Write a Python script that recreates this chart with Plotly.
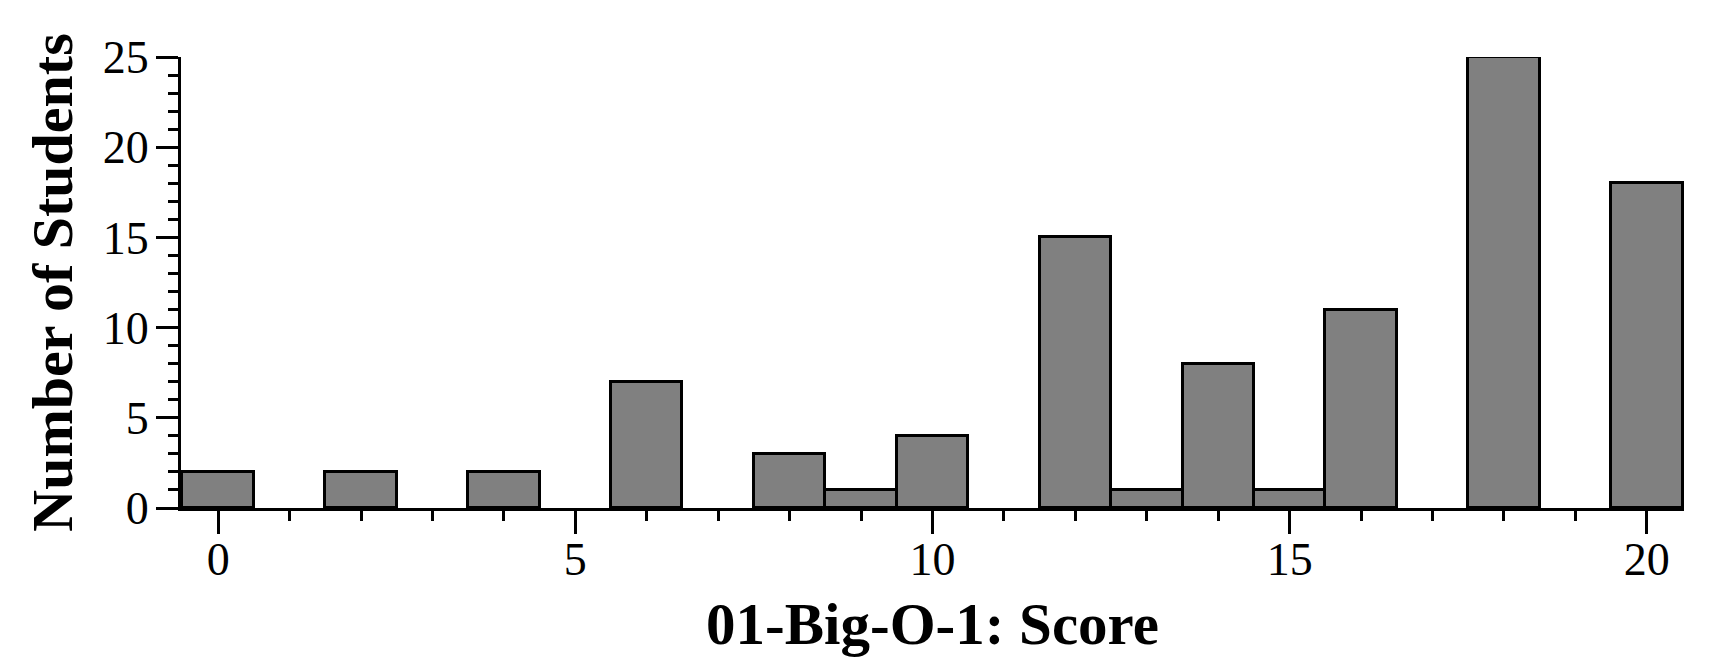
import plotly.graph_objects as go

scores = [0, 2, 4, 6, 8, 9, 10, 12, 13, 14, 15, 16, 18, 20]
counts = [2, 2, 2, 7, 3, 1, 4, 15, 1, 8, 1, 11, 25, 18]
x_ticks = [0, 5, 10, 15, 20]
y_ticks = [0, 5, 10, 15, 20, 25]

FONT = "Liberation Serif, Times New Roman, serif"

fig = go.Figure(go.Bar(
    x=scores, y=counts, width=1,
    marker=dict(color="#808080", line=dict(color="black", width=3)),
))

# page body has an 8px default margin: size the figure to fit the window
fig.update_layout(
    width=1704, height=654,
    margin=dict(l=173, r=28, t=49, b=154),
    plot_bgcolor="white", paper_bgcolor="white",
    showlegend=False,
    font=dict(family=FONT, color="black", size=46),
    bargap=0,
)
fig.update_xaxes(
    range=[-0.52, 20.52], tickvals=x_ticks, ticktext=[str(v) for v in x_ticks],
    showline=True, linecolor="black", linewidth=3,
    ticks="outside", ticklen=23, tickwidth=3, tickcolor="black",
    minor=dict(dtick=1, tick0=0, ticks="outside", ticklen=10, tickwidth=3, tickcolor="black"),
    showgrid=False, zeroline=False, ticklabelstandoff=-14,
    title=dict(text="<b>01-Big-O-1: Score</b>", font=dict(size=59, family=FONT), standoff=19),
    tickfont=dict(size=46, family=FONT),
)
fig.update_yaxes(
    range=[0, 25], tickvals=y_ticks, ticktext=[str(v) for v in y_ticks],
    showline=True, linecolor="black", linewidth=3,
    ticks="outside", ticklen=22, tickwidth=3, tickcolor="black",
    minor=dict(dtick=1, tick0=0, ticks="outside", ticklen=10, tickwidth=3, tickcolor="black"),
    showgrid=False, zeroline=False, ticklabelstandoff=-2,
    title=dict(text="<b>Number of Students</b>", font=dict(size=58, family=FONT), standoff=12),
    tickfont=dict(size=46, family=FONT),
)

fig.write_html("out.html")
